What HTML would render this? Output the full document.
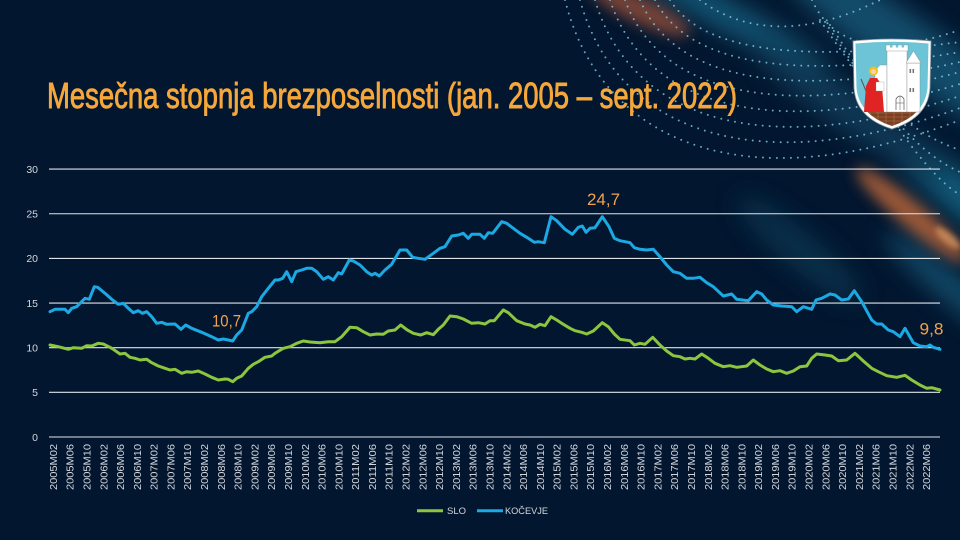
<!DOCTYPE html>
<html><head><meta charset="utf-8"><style>
html,body{margin:0;padding:0;background:#03162f;}
svg{display:block;}
</style></head><body>
<svg width="960" height="540" viewBox="0 0 960 540" xmlns="http://www.w3.org/2000/svg">
<defs>
<filter id="b1" x="-50%" y="-50%" width="200%" height="200%"><feGaussianBlur stdDeviation="12"/></filter>
<filter id="b2" x="-50%" y="-50%" width="200%" height="200%"><feGaussianBlur stdDeviation="7"/></filter>
<filter id="b3" x="-50%" y="-50%" width="200%" height="200%"><feGaussianBlur stdDeviation="3"/></filter>
<clipPath id="shc"><path d="M855.5,43.5 Q892,40 928.5,43.5 L927.5,88 Q925,115 892,126 Q859,115 856.5,88 Z"/></clipPath>
</defs>
<rect width="960" height="540" fill="#03162f"/>

<!-- decoration glows -->
<g filter="url(#b1)" opacity="0.6">
<ellipse cx="720" cy="12" rx="120" ry="16" fill="#1a7ea0" transform="rotate(28 720 12)"/>
<ellipse cx="905" cy="45" rx="160" ry="30" fill="#1a6f92" transform="rotate(35 905 45)"/>
<ellipse cx="955" cy="190" rx="120" ry="20" fill="#1f86a8" transform="rotate(40 955 190)"/>
<ellipse cx="955" cy="290" rx="90" ry="14" fill="#1a6f92" transform="rotate(40 955 290)"/>
<ellipse cx="800" cy="250" rx="80" ry="18" fill="#0e3f5c" transform="rotate(40 800 250)"/>
<ellipse cx="850" cy="110" rx="120" ry="20" fill="#12506e" transform="rotate(35 850 110)"/>
</g>
<g filter="url(#b2)">
<ellipse cx="640" cy="10" rx="55" ry="13" fill="#c5603a" opacity="0.6" transform="rotate(25 640 10)"/>
<ellipse cx="912" cy="215" rx="72" ry="13" fill="#d9743a" opacity="0.7" transform="rotate(40 912 215)"/>
</g>
<ellipse cx="948" cy="238" rx="16" ry="5" fill="#ffb570" opacity="0.55" filter="url(#b3)" transform="rotate(40 948 238)"/>

<!-- dotted arcs -->
<g fill="none" stroke="#8fd6ee" stroke-width="2" stroke-linecap="round" stroke-dasharray="0 7" opacity="0.75">
<path d="M565,0 C600,140 740,205 960,120"/>
<path d="M580,0 C614,125 745,185 960,108"/>
<path d="M595,0 C628,112 750,165 960,96"/>
<path d="M610,0 C642,98 755,145 960,84"/>
<path d="M625,0 C656,84 760,125 960,72"/>
<path d="M640,0 C670,70 765,105 960,62"/>
<path d="M655,0 C684,56 770,85 960,52"/>
<path d="M670,0 C698,44 775,66 960,42"/>
<path d="M820,20 C860,80 900,130 960,150"/>
<path d="M825,22 C870,90 910,150 960,172"/>
<path d="M830,25 C880,100 920,170 960,195"/>
<path d="M812,0 C830,40 870,60 960,30"/>
<path d="M700,0 C740,30 800,40 880,0"/>
</g>

<!-- title -->
<text x="47" y="108" font-family="'Liberation Sans Narrow','Liberation Sans',sans-serif" font-size="36" fill="#f6a73a" stroke="#f6a73a" stroke-width="0.9" textLength="690" lengthAdjust="spacingAndGlyphs">Mesečna stopnja brezposelnosti (jan. 2005 – sept. 2022)</text>

<!-- coat of arms -->
<g>
<path d="M853,41 Q892,37 931,41 L930,88 Q928,118 892,129 Q856,118 854,88 Z" fill="#ffffff" stroke="#8a9aa0" stroke-width="0.8"/>
<path d="M855.5,43.5 Q892,40 928.5,43.5 L927.5,88 Q925,115 892,126 Q859,115 856.5,88 Z" fill="#6cc4d6"/>
<g clip-path="url(#shc)">
<rect x="850" y="111" width="85" height="22" fill="#8b4b2b"/>
<path d="M855,115 H930 M855,119 H930 M855,123 H930" stroke="#5e2f18" stroke-width="0.8"/>
<path d="M862,111 V128 M870,111 V128 M878,111 V128 M886,111 V128 M894,111 V128 M902,111 V128 M910,111 V128 M918,111 V128" stroke="#b07050" stroke-width="0.6"/>
</g>
<polygon points="875,112 875,71 880,65 887,65 887,112" fill="#fff" stroke="#888" stroke-width="0.4"/>
<rect x="887" y="50" width="20" height="62" fill="#fff" stroke="#888" stroke-width="0.4"/>
<rect x="886" y="45" width="22" height="6" fill="#fff" stroke="#888" stroke-width="0.4"/>
<rect x="890" y="45" width="2.5" height="2.5" fill="#6cc4d6"/>
<rect x="895.8" y="45" width="2.5" height="2.5" fill="#6cc4d6"/>
<rect x="901.6" y="45" width="2.5" height="2.5" fill="#6cc4d6"/>
<rect x="907" y="63" width="13" height="49" fill="#fff" stroke="#888" stroke-width="0.4"/>
<polygon points="906,63 913.5,51 921,63" fill="#fff" stroke="#888" stroke-width="0.4"/>
<rect x="909.5" y="69" width="1.6" height="4" fill="#777"/><rect x="912.5" y="69" width="1.6" height="4" fill="#777"/>
<rect x="909.5" y="88" width="1.6" height="4" fill="#777"/><rect x="912.5" y="88" width="1.6" height="4" fill="#777"/>
<path d="M896,110 V99 Q900,93 904,99 V110" fill="#fff" stroke="#555" stroke-width="0.7"/>
<path d="M900,96 V110 M896,103 H904" stroke="#555" stroke-width="0.5"/>
<polygon points="864,112 866,86 870,78 877,78 882,86 884,112" fill="#e02424"/>
<circle cx="873.5" cy="71" r="4.5" fill="#f0c020"/>
<circle cx="873.5" cy="71.5" r="2.6" fill="#f3d2b0"/>
<rect x="876" y="82" width="8" height="9" fill="#fff" stroke="#888" stroke-width="0.3"/>
<line x1="861" y1="79" x2="866" y2="91" stroke="#555" stroke-width="1"/>
</g>

<!-- grid -->
<g stroke="#dfe3e8" stroke-width="1.1">
<line x1="49" y1="169.1" x2="940" y2="169.1"/>
<line x1="49" y1="213.75" x2="940" y2="213.75"/>
<line x1="49" y1="258.4" x2="940" y2="258.4"/>
<line x1="49" y1="303.05" x2="940" y2="303.05"/>
<line x1="49" y1="347.7" x2="940" y2="347.7"/>
<line x1="49" y1="392.35" x2="940" y2="392.35"/>
<line x1="49" y1="437" x2="940" y2="437"/>
</g>

<!-- y labels -->
<g font-family="'Liberation Sans',sans-serif" font-size="10.5" fill="#d4d8de" text-anchor="end">
<text x="38" y="172.9">30</text>
<text x="38" y="217.55">25</text>
<text x="38" y="262.2">20</text>
<text x="38" y="306.85">15</text>
<text x="38" y="351.5">10</text>
<text x="38" y="396.15">5</text>
<text x="38" y="440.8">0</text>
</g>

<!-- series -->
<polyline fill="none" stroke="#8cc63f" stroke-width="3" stroke-linejoin="round" stroke-linecap="round" points="50,345 58.3,346.7 68.3,349.3 73.3,347.7 81.7,348.3 86.7,345.7 91.7,346 98.3,343.3 103.3,344 110,347.3 113.3,349.3 120,354 125,353.3 130,357.3 135,358.3 140,360 146.7,359.3 151.7,362.7 158.3,366 163.3,367.7 170,370 175,369.3 181.7,373.3 186.7,371.7 191.7,372.3 198.3,371 205,374 211.7,377.3 218.3,380 225,379 228.3,379.3 232.7,381.7 236.7,378.3 241.7,376 248.3,368.3 253.3,364.3 258.3,361.7 265,357.3 271.7,356 275,353.3 283.3,348.3 290,346.7 296.7,343.3 303.3,341 310,342 320,342.7 328.3,341.7 335,341.7 341.7,336.7 350,327.3 356.7,327.7 363.3,331.7 370,335 376.7,334 383.3,334.3 388.3,331 395,330 400.7,325 407.3,330 413.3,333.3 420.7,335 426.7,332.7 433.3,334.7 438.3,329.3 443.3,325 450,316 456.7,316.7 463.3,319 471.7,323.3 478.3,322.7 485,324 490,320.7 494.3,320.7 503.3,310 508.3,312.7 516.7,320.7 525,324 530,325 535,327.3 540,324.3 545,325.7 551,316.7 556.7,320 561.7,323.3 570,328.3 575,330.7 581.7,332.3 586.7,334 593.3,331 602.3,322.7 608.3,326.7 614.3,334 620,339.3 630,340.7 634.3,345 640,343.3 645,344.3 652.7,337.3 660,345 666.7,351 673.3,355.7 680,356.7 685,359 690,358.3 695,359 701.7,354 708.3,358.3 715,363.3 723.3,366.7 730,365.7 736.7,367.3 746.7,366 753.3,360 760,365 766.7,369 773.3,371.7 780,370.7 786.7,373.3 793.3,371 800,366.7 806.7,366 811.7,358.3 816.7,354 825,355 831.7,356 838.3,360.7 846.7,360 855,353.3 863.3,361 871.7,368.3 878.3,371.7 886.7,375.7 896.7,377.3 905,375.3 911.7,380 920,385 926.7,388.3 931.7,387.7 940,390"/>
<polyline fill="none" stroke="#1ba9e4" stroke-width="3" stroke-linejoin="round" stroke-linecap="round" points="50,311.7 55,309.3 65,309.3 68.3,312.7 71.7,308.3 76.7,306.7 80,303.3 85,298.3 89.3,299.3 94.3,286.7 97.7,287.3 105,293.3 111.7,299.3 118.3,304.3 123.3,303.3 128.3,308.3 133.3,312.7 138.3,310.7 142.3,313.3 146.7,311.7 151.7,316.7 156.7,323.3 161.7,322.3 166.7,324.3 175,324 181,329.3 185.7,325 191.7,328.3 201.7,332.3 211.7,336.7 218.3,340 223.3,339 228.3,340 232.7,341 236.7,335 241.7,330 248.3,313.3 251.7,311.7 256.7,306.7 261.7,296.7 268.3,288.3 275,280 278.3,280 282.7,278.3 286.7,271.7 291.7,281.7 296,271.7 301.7,270 306.7,268.3 311.7,268.3 316.7,271.7 323.3,279.3 328.3,276.7 333.3,280 338.3,272.7 341.7,274 349.3,260 353.3,261 360,265 366.7,271.7 371.7,275 375,273.3 379.3,276 385,270 391.7,264.3 400,250 406.7,250 412.7,257.3 418.3,258.3 425,259.3 433.3,253.3 440,248.3 445,246.7 451.7,236 458.3,235 463.3,233.3 468.3,238.3 471.7,234.3 480,234.3 484.3,238.3 488.3,232.7 492.7,233.3 501.7,221.7 506.7,223.3 513.3,228.3 520,233.3 526.7,237.3 534.3,242.3 538.3,241.7 544.3,242.7 551,216.7 556.7,220.7 565,229.3 572.3,234.3 578.3,227.3 582.3,226 586,232.3 590,228.3 595,227.7 602.3,216.7 609,226.7 614.3,238.3 620,240.7 630,242.7 634.3,247.7 640,249.3 646.7,250 653.3,249.3 660,256.7 666.7,265 673.3,271.7 680,273.3 686.7,278.3 693.3,278.3 700,277.3 706.7,282.7 713.3,286.7 723.3,296 731.7,294 736.7,299.3 748.3,300.7 756.7,291.7 761.7,294 766.7,300 773.3,305 781.7,306 791.7,306.7 796.7,311.7 803.3,306.7 811.7,309.3 816,300 821.7,298.3 830,294 835,295 841.7,300 848.3,299 854.3,290.7 861.7,301.7 871.7,320 876.7,324 881.7,324 888.3,330 893.3,331.7 900,336.7 905,328.3 913.3,342.7 920,346 926.7,346.7 930,345 933.3,347.3 940,349.3"/>

<!-- annotations -->
<g font-family="'Liberation Sans',sans-serif" font-size="17" fill="#f2a34a">
<text x="212" y="326.5" textLength="29" lengthAdjust="spacingAndGlyphs">10,7</text>
<text x="587" y="205" textLength="33" lengthAdjust="spacingAndGlyphs">24,7</text>
<text x="919.5" y="334.3" textLength="24" lengthAdjust="spacingAndGlyphs">9,8</text>
</g>

<!-- x labels -->
<g font-family="'Liberation Sans',sans-serif" font-size="10.5" fill="#d4d8de" text-anchor="end">
<text transform="translate(56.9 444) rotate(-90)" textLength="46" lengthAdjust="spacingAndGlyphs">2005M02</text>
<text transform="translate(73.7 444) rotate(-90)" textLength="46" lengthAdjust="spacingAndGlyphs">2005M06</text>
<text transform="translate(90.5 444) rotate(-90)" textLength="46" lengthAdjust="spacingAndGlyphs">2005M10</text>
<text transform="translate(107.3 444) rotate(-90)" textLength="46" lengthAdjust="spacingAndGlyphs">2006M02</text>
<text transform="translate(124.1 444) rotate(-90)" textLength="46" lengthAdjust="spacingAndGlyphs">2006M06</text>
<text transform="translate(140.9 444) rotate(-90)" textLength="46" lengthAdjust="spacingAndGlyphs">2006M10</text>
<text transform="translate(157.7 444) rotate(-90)" textLength="46" lengthAdjust="spacingAndGlyphs">2007M02</text>
<text transform="translate(174.4 444) rotate(-90)" textLength="46" lengthAdjust="spacingAndGlyphs">2007M06</text>
<text transform="translate(191.2 444) rotate(-90)" textLength="46" lengthAdjust="spacingAndGlyphs">2007M10</text>
<text transform="translate(208.0 444) rotate(-90)" textLength="46" lengthAdjust="spacingAndGlyphs">2008M02</text>
<text transform="translate(224.8 444) rotate(-90)" textLength="46" lengthAdjust="spacingAndGlyphs">2008M06</text>
<text transform="translate(241.6 444) rotate(-90)" textLength="46" lengthAdjust="spacingAndGlyphs">2008M10</text>
<text transform="translate(258.4 444) rotate(-90)" textLength="46" lengthAdjust="spacingAndGlyphs">2009M02</text>
<text transform="translate(275.2 444) rotate(-90)" textLength="46" lengthAdjust="spacingAndGlyphs">2009M06</text>
<text transform="translate(292.0 444) rotate(-90)" textLength="46" lengthAdjust="spacingAndGlyphs">2009M10</text>
<text transform="translate(308.8 444) rotate(-90)" textLength="46" lengthAdjust="spacingAndGlyphs">2010M02</text>
<text transform="translate(325.6 444) rotate(-90)" textLength="46" lengthAdjust="spacingAndGlyphs">2010M06</text>
<text transform="translate(342.4 444) rotate(-90)" textLength="46" lengthAdjust="spacingAndGlyphs">2010M10</text>
<text transform="translate(359.2 444) rotate(-90)" textLength="46" lengthAdjust="spacingAndGlyphs">2011M02</text>
<text transform="translate(375.9 444) rotate(-90)" textLength="46" lengthAdjust="spacingAndGlyphs">2011M06</text>
<text transform="translate(392.7 444) rotate(-90)" textLength="46" lengthAdjust="spacingAndGlyphs">2011M10</text>
<text transform="translate(409.5 444) rotate(-90)" textLength="46" lengthAdjust="spacingAndGlyphs">2012M02</text>
<text transform="translate(426.3 444) rotate(-90)" textLength="46" lengthAdjust="spacingAndGlyphs">2012M06</text>
<text transform="translate(443.1 444) rotate(-90)" textLength="46" lengthAdjust="spacingAndGlyphs">2012M10</text>
<text transform="translate(459.9 444) rotate(-90)" textLength="46" lengthAdjust="spacingAndGlyphs">2013M02</text>
<text transform="translate(476.7 444) rotate(-90)" textLength="46" lengthAdjust="spacingAndGlyphs">2013M06</text>
<text transform="translate(493.5 444) rotate(-90)" textLength="46" lengthAdjust="spacingAndGlyphs">2013M10</text>
<text transform="translate(510.3 444) rotate(-90)" textLength="46" lengthAdjust="spacingAndGlyphs">2014M02</text>
<text transform="translate(527.1 444) rotate(-90)" textLength="46" lengthAdjust="spacingAndGlyphs">2014M06</text>
<text transform="translate(543.9 444) rotate(-90)" textLength="46" lengthAdjust="spacingAndGlyphs">2014M10</text>
<text transform="translate(560.7 444) rotate(-90)" textLength="46" lengthAdjust="spacingAndGlyphs">2015M02</text>
<text transform="translate(577.4 444) rotate(-90)" textLength="46" lengthAdjust="spacingAndGlyphs">2015M06</text>
<text transform="translate(594.2 444) rotate(-90)" textLength="46" lengthAdjust="spacingAndGlyphs">2015M10</text>
<text transform="translate(611.0 444) rotate(-90)" textLength="46" lengthAdjust="spacingAndGlyphs">2016M02</text>
<text transform="translate(627.8 444) rotate(-90)" textLength="46" lengthAdjust="spacingAndGlyphs">2016M06</text>
<text transform="translate(644.6 444) rotate(-90)" textLength="46" lengthAdjust="spacingAndGlyphs">2016M10</text>
<text transform="translate(661.4 444) rotate(-90)" textLength="46" lengthAdjust="spacingAndGlyphs">2017M02</text>
<text transform="translate(678.2 444) rotate(-90)" textLength="46" lengthAdjust="spacingAndGlyphs">2017M06</text>
<text transform="translate(695.0 444) rotate(-90)" textLength="46" lengthAdjust="spacingAndGlyphs">2017M10</text>
<text transform="translate(711.8 444) rotate(-90)" textLength="46" lengthAdjust="spacingAndGlyphs">2018M02</text>
<text transform="translate(728.6 444) rotate(-90)" textLength="46" lengthAdjust="spacingAndGlyphs">2018M06</text>
<text transform="translate(745.4 444) rotate(-90)" textLength="46" lengthAdjust="spacingAndGlyphs">2018M10</text>
<text transform="translate(762.2 444) rotate(-90)" textLength="46" lengthAdjust="spacingAndGlyphs">2019M02</text>
<text transform="translate(778.9 444) rotate(-90)" textLength="46" lengthAdjust="spacingAndGlyphs">2019M06</text>
<text transform="translate(795.7 444) rotate(-90)" textLength="46" lengthAdjust="spacingAndGlyphs">2019M10</text>
<text transform="translate(812.5 444) rotate(-90)" textLength="46" lengthAdjust="spacingAndGlyphs">2020M02</text>
<text transform="translate(829.3 444) rotate(-90)" textLength="46" lengthAdjust="spacingAndGlyphs">2020M06</text>
<text transform="translate(846.1 444) rotate(-90)" textLength="46" lengthAdjust="spacingAndGlyphs">2020M10</text>
<text transform="translate(862.9 444) rotate(-90)" textLength="46" lengthAdjust="spacingAndGlyphs">2021M02</text>
<text transform="translate(879.7 444) rotate(-90)" textLength="46" lengthAdjust="spacingAndGlyphs">2021M06</text>
<text transform="translate(896.5 444) rotate(-90)" textLength="46" lengthAdjust="spacingAndGlyphs">2021M10</text>
<text transform="translate(913.3 444) rotate(-90)" textLength="46" lengthAdjust="spacingAndGlyphs">2022M02</text>
<text transform="translate(930.1 444) rotate(-90)" textLength="46" lengthAdjust="spacingAndGlyphs">2022M06</text>
</g>

<!-- legend -->
<line x1="417" y1="510.7" x2="443" y2="510.7" stroke="#8cc63f" stroke-width="3"/>
<line x1="477" y1="510.7" x2="503" y2="510.7" stroke="#1ba9e4" stroke-width="3"/>
<g font-family="'Liberation Sans',sans-serif" font-size="9.5" fill="#d4d8de">
<text x="447" y="514.2" textLength="19" lengthAdjust="spacingAndGlyphs">SLO</text>
<text x="505" y="514.2" textLength="43" lengthAdjust="spacingAndGlyphs">KOČEVJE</text>
</g>
</svg>
</body></html>
